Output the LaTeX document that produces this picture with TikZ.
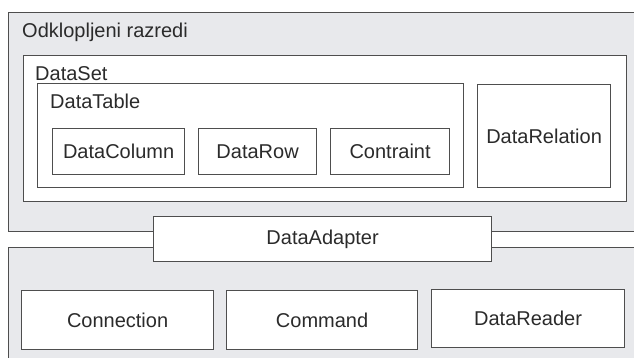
\documentclass[tikz,border=0pt]{standalone}
\usepackage{fontspec}
\setmainfont{Liberation Sans}
\definecolor{linec}{HTML}{4E4E4E}
\definecolor{areafill}{HTML}{E8E9EC}
\definecolor{textc}{HTML}{2B2B2B}
\begin{document}
\begin{tikzpicture}[x=1pt,y=-1pt,
  box/.style={draw=linec,line width=1.2pt,fill=white,rectangle,inner sep=0pt},
  area/.style={draw=linec,line width=1.2pt,fill=areafill,rectangle,inner sep=0pt},
  lbl/.style={text=textc,font=\fontsize{20}{24}\selectfont,inner sep=0pt},
  title/.style={lbl,anchor=base west}]
\useasboundingbox (0,0) rectangle (634,357);
\fill[white] (0,0) rectangle (634,357);
% outer areas
\node[area,fit/.style={},minimum width=632pt,minimum height=219pt,anchor=north west] (odk) at (8,12) {};
\node[area,minimum width=632pt,minimum height=120pt,anchor=north west] (conn) at (8,247) {};
\node[title] (odkt) at (22,37) {Odklopljeni razredi};
% DataSet
\node[box,minimum width=603pt,minimum height=146pt,anchor=north west] (ds) at (23,55) {};
\node[title] (dst) at (35,80) {DataSet};
\node[box,minimum width=426pt,minimum height=104pt,anchor=north west] (dt) at (37,83) {};
\node[title] (dtt) at (50,108) {DataTable};
\node[box,lbl,minimum width=132pt,minimum height=46pt,anchor=north west] (dc) at (52,128) {DataColumn};
\node[box,lbl,minimum width=118pt,minimum height=46pt,anchor=north west] (dr) at (198,128) {DataRow};
\node[box,lbl,minimum width=119pt,minimum height=46pt,anchor=north west] (co) at (330,128) {Contraint};
\node[box,lbl,minimum width=133pt,minimum height=103pt,anchor=north west] (rel) at (477,84) {DataRelation};
% DataAdapter
\node[box,lbl,minimum width=338pt,minimum height=45pt,anchor=north west] (da) at (153,216) {DataAdapter};
% bottom
\node[box,lbl,minimum width=192pt,minimum height=59pt,anchor=north west] (cn) at (21,290) {Connection};
\node[box,lbl,minimum width=191pt,minimum height=59pt,anchor=north west] (cm) at (226,290) {Command};
\node[box,lbl,minimum width=193pt,minimum height=58pt,anchor=north west] (rd) at (431,289) {DataReader};
\end{tikzpicture}
\end{document}
